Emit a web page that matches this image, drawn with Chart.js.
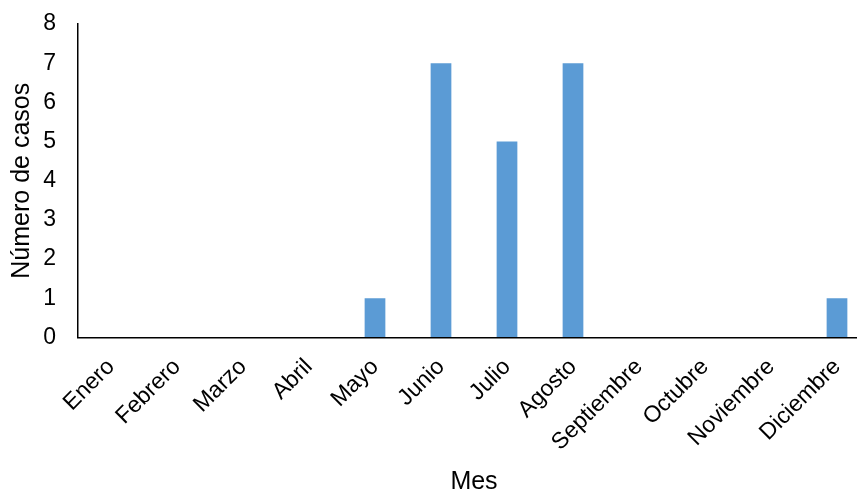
<!DOCTYPE html>
<html>
<head>
<meta charset="utf-8">
<script src="https://cdn.jsdelivr.net/npm/chart.js@4.4.1/dist/chart.umd.min.js"></script>
<style>
  html, body { margin: 0; padding: 0; background: #fff; width: 857px; height: 493px; overflow: hidden; }
  #wrap { width: 882px; height: 493px; }
</style>
</head>
<body>
<div id="wrap"><canvas id="chart" width="882" height="493"></canvas></div>
<script>
// Casos por mes
const meses = ['Enero', 'Febrero', 'Marzo', 'Abril', 'Mayo', 'Junio', 'Julio',
               'Agosto', 'Septiembre', 'Octubre', 'Noviembre', 'Diciembre'];
const casos = [0, 0, 0, 0, 1, 7, 5, 7, 0, 0, 0, 1];
const yMin = 0;
const yMax = 8;
const yPaso = 1;

const fuente = '"Liberation Sans", Arial, sans-serif';

new Chart(document.getElementById('chart'), {
  type: 'bar',
  data: {
    labels: meses,
    datasets: [{
      data: casos,
      backgroundColor: '#5B9BD5',
      borderWidth: 0,
      barPercentage: 0.314,
      categoryPercentage: 1
    }]
  },
  options: {
    responsive: false,
    animation: false,
    layout: { padding: { top: 24, right: 12, bottom: 0, left: 0 } },
    plugins: { legend: { display: false }, tooltip: { enabled: false } },
    scales: {
      x: {
        grid: { color: 'transparent', drawTicks: false },
        border: { display: true, color: '#000', width: 1.5 },
        ticks: {
          color: '#000',
          font: { family: fuente, size: 23 },
          minRotation: 45,
          maxRotation: 45,
          autoSkip: false,
          padding: 16
        },
        title: {
          display: true,
          text: 'Mes',
          color: '#000',
          font: { family: fuente, size: 25, lineHeight: 0.9 },
          padding: { top: 0, bottom: 0 }
        },
        afterFit: (s) => { s.height = 155.5; }
      },
      y: {
        min: yMin,
        max: yMax,
        grid: { color: 'transparent', drawTicks: false },
        border: { display: true, color: '#000', width: 1.5 },
        ticks: {
          stepSize: yPaso,
          color: '#000',
          font: { family: fuente, size: 23 },
          padding: 22
        },
        title: {
          display: true,
          text: 'Número de casos',
          color: '#000',
          font: { family: fuente, size: 25, lineHeight: 1.2 },
          padding: { top: 7, bottom: 0 }
        },
        afterFit: (s) => {
          s.width = 78;
          s.paddingTop = 0;
          s.paddingBottom = 0;
        }
      }
    }
  }
});
</script>
</body>
</html>
